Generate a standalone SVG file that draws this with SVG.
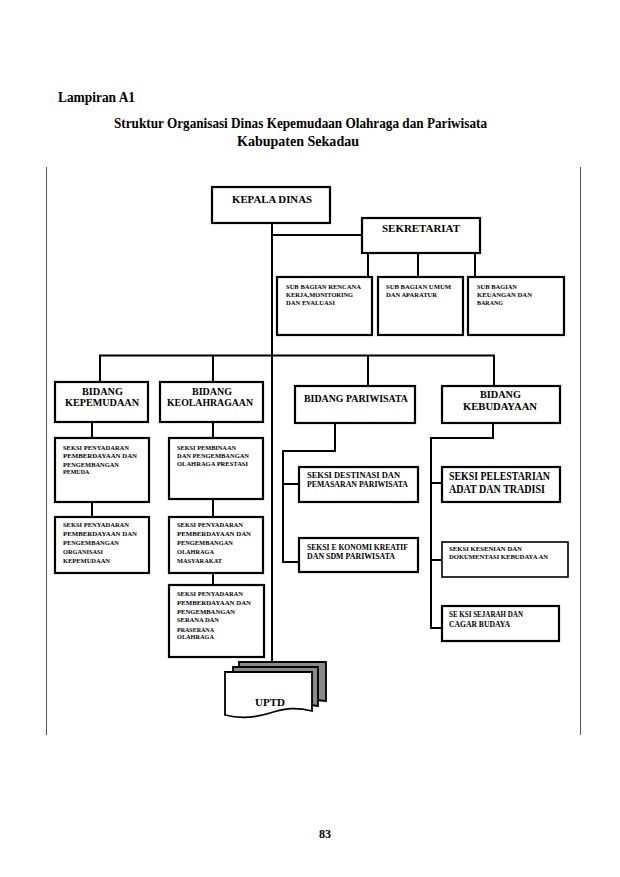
<svg xmlns="http://www.w3.org/2000/svg" width="620" height="877" viewBox="0 0 620 877">
<style>
text{font-family:"Liberation Serif","Times New Roman",serif;font-weight:bold;fill:#000}
.title{font-size:14.5px}
.bl{font-size:10.5px}
.sm{font-size:6px}
.md{font-size:7.5px}
.lg{font-size:12.5px}
.box{fill:#fff;stroke:#000;stroke-width:2.2}
.thin{fill:#fff;stroke:#000;stroke-width:1.6}
.ln{fill:none;stroke:#000;stroke-width:2}
.frame{stroke:#555;stroke-width:1}
</style>
<rect width="620" height="877" fill="#fff"/>
<text class="title" x="58" y="102" textLength="77" lengthAdjust="spacingAndGlyphs">Lampiran A1</text>
<text class="title" x="114" y="128" textLength="373" lengthAdjust="spacingAndGlyphs">Struktur Organisasi Dinas Kepemudaan Olahraga dan Pariwisata</text>
<text class="title" x="237" y="146" textLength="122" lengthAdjust="spacingAndGlyphs">Kabupaten Sekadau</text>
<line class="frame" x1="46.5" y1="167" x2="46.5" y2="735"/>
<line class="frame" x1="580.5" y1="167" x2="580.5" y2="735"/>
<g id="connectors">
<line class="ln" x1="272" y1="223" x2="272" y2="663"/>
<line class="ln" x1="272" y1="235" x2="362" y2="235"/>
<line class="ln" x1="368" y1="253" x2="368" y2="277"/>
<line class="ln" x1="418" y1="253" x2="418" y2="277"/>
<line class="ln" x1="475" y1="253" x2="475" y2="277"/>
<path class="ln" d="M100,382 V355.5 H494 V386"/>
<line class="ln" x1="213" y1="355" x2="213" y2="382"/>
<line class="ln" x1="368" y1="355" x2="368" y2="386"/>
<line class="ln" x1="92" y1="422" x2="92" y2="438"/>
<line class="ln" x1="92" y1="502" x2="92" y2="517"/>
<line class="ln" x1="213" y1="422" x2="213" y2="438"/>
<line class="ln" x1="213" y1="499" x2="213" y2="517"/>
<line class="ln" x1="213" y1="573" x2="213" y2="585"/>
<path class="ln" d="M335,423 V451 H283 V562 H299"/>
<line class="ln" x1="283" y1="484" x2="299" y2="484"/>
<path class="ln" d="M493,423 V438 H431 V628 H442"/>
<line class="ln" x1="431" y1="483" x2="442" y2="483"/>
<line class="ln" x1="431" y1="560" x2="442" y2="560"/>
</g>
<g id="kepala-dinas">
<rect class="box" x="212" y="187" width="118" height="36"/>
<text class="bl" x="232" y="203" textLength="80" lengthAdjust="spacingAndGlyphs">KEPALA DINAS</text>
</g>
<g id="sekretariat">
<rect class="box" x="362" y="218" width="118" height="35"/>
<text class="bl" x="382" y="232" textLength="78" lengthAdjust="spacingAndGlyphs">SEKRETARIAT</text>
</g>
<g id="sub-rencana">
<rect class="box" x="277" y="277" width="95" height="58"/>
<text class="sm" x="286" y="289" textLength="75" lengthAdjust="spacingAndGlyphs">SUB BAGIAN  RENCANA</text>
<text class="sm" x="286" y="297" textLength="67" lengthAdjust="spacingAndGlyphs">KERJA,MONITORING</text>
<text class="sm" x="286" y="305" textLength="49" lengthAdjust="spacingAndGlyphs">DAN  EVALUASI</text>
</g>
<g id="sub-umum">
<rect class="box" x="378" y="277" width="85" height="58"/>
<text class="sm" x="386" y="289" textLength="65" lengthAdjust="spacingAndGlyphs">SUB BAGIAN  UMUM</text>
<text class="sm" x="386" y="297" textLength="51" lengthAdjust="spacingAndGlyphs">DAN  APARATUR</text>
</g>
<g id="sub-keuangan">
<rect class="box" x="468" y="277" width="96" height="58"/>
<text class="sm" x="477" y="289" textLength="40" lengthAdjust="spacingAndGlyphs">SUB BAGIAN</text>
<text class="sm" x="477" y="297" textLength="55" lengthAdjust="spacingAndGlyphs">KEUANGAN  DAN</text>
<text class="sm" x="477" y="305">BARANG</text>
</g>
<g id="bidang-kepemudaan">
<rect class="box" x="55" y="382" width="93" height="40"/>
<text class="bl" x="82" y="395" textLength="41" lengthAdjust="spacingAndGlyphs">BIDANG</text>
<text class="bl" x="65" y="406" textLength="74" lengthAdjust="spacingAndGlyphs">KEPEMUDAAN</text>
</g>
<g id="bidang-keolahragaan">
<rect class="box" x="160" y="382" width="103" height="40"/>
<text class="bl" x="192" y="395" textLength="40" lengthAdjust="spacingAndGlyphs">BIDANG</text>
<text class="bl" x="167" y="406" textLength="86" lengthAdjust="spacingAndGlyphs">KEOLAHRAGAAN</text>
</g>
<g id="bidang-pariwisata">
<rect class="box" x="295" y="386" width="120" height="37"/>
<text class="bl" x="304" y="402" textLength="104" lengthAdjust="spacingAndGlyphs">BIDANG PARIWISATA</text>
</g>
<g id="bidang-kebudayaan">
<rect class="box" x="442" y="386" width="118" height="37"/>
<text class="bl" x="480" y="398" textLength="41" lengthAdjust="spacingAndGlyphs">BIDANG</text>
<text class="bl" x="463" y="410" textLength="74" lengthAdjust="spacingAndGlyphs">KEBUDAYAAN</text>
</g>
<g id="seksi-pemuda">
<rect class="box" x="55" y="438" width="94" height="64" stroke-width="2.6"/>
<text class="sm" x="63" y="450" textLength="66" lengthAdjust="spacingAndGlyphs">SEKSI  PENYADARAN</text>
<text class="sm" x="63" y="458" textLength="74" lengthAdjust="spacingAndGlyphs">PEMBERDAYAAN   DAN</text>
<text class="sm" x="63" y="467" textLength="56" lengthAdjust="spacingAndGlyphs">PENGEMBANGAN</text>
<text class="sm" x="63" y="474">PEMUDA</text>
</g>
<g id="seksi-organisasi">
<rect class="box" x="55" y="517" width="94" height="56" stroke-width="2.6"/>
<text class="sm" x="63" y="527" textLength="66" lengthAdjust="spacingAndGlyphs">SEKSI  PENYADARAN</text>
<text class="sm" x="63" y="536" textLength="74" lengthAdjust="spacingAndGlyphs">PEMBERDAYAAN   DAN</text>
<text class="sm" x="63" y="545" textLength="56" lengthAdjust="spacingAndGlyphs">PENGEMBANGAN</text>
<text class="sm" x="63" y="554" textLength="40" lengthAdjust="spacingAndGlyphs">ORGANISASI</text>
<text class="sm" x="63" y="563" textLength="47" lengthAdjust="spacingAndGlyphs">KEPEMUDAAN</text>
</g>
<g id="seksi-prestasi">
<rect class="box" x="169" y="438" width="94" height="61"/>
<text class="sm" x="177" y="450" textLength="59" lengthAdjust="spacingAndGlyphs">SEKSI  PEMBINAAN</text>
<text class="sm" x="177" y="458" textLength="72" lengthAdjust="spacingAndGlyphs">DAN  PENGEMBANGAN</text>
<text class="sm" x="177" y="466" textLength="71" lengthAdjust="spacingAndGlyphs">OLAHRAGA   PRESTASI</text>
</g>
<g id="seksi-masyarakat">
<rect class="box" x="169" y="517" width="94" height="56" stroke-width="2.6"/>
<text class="sm" x="177" y="527" textLength="66" lengthAdjust="spacingAndGlyphs">SEKSI  PENYADARAN</text>
<text class="sm" x="177" y="536" textLength="74" lengthAdjust="spacingAndGlyphs">PEMBERDAYAAN   DAN</text>
<text class="sm" x="177" y="545" textLength="56" lengthAdjust="spacingAndGlyphs">PENGEMBANGAN</text>
<text class="sm" x="177" y="554" textLength="37" lengthAdjust="spacingAndGlyphs">OLAHRAGA</text>
<text class="sm" x="177" y="563" textLength="45" lengthAdjust="spacingAndGlyphs">MASYARAKAT</text>
</g>
<g id="seksi-sarana">
<rect class="box" x="169" y="585" width="95" height="72"/>
<text class="sm" x="177" y="596" textLength="66" lengthAdjust="spacingAndGlyphs">SEKSI PENYADARAN</text>
<text class="sm" x="177" y="605" textLength="74" lengthAdjust="spacingAndGlyphs">PEMBERDAYAAN   DAN</text>
<text class="sm" x="177" y="614" textLength="58" lengthAdjust="spacingAndGlyphs">PENGEMBANGAN</text>
<text class="sm" x="177" y="622" textLength="42" lengthAdjust="spacingAndGlyphs">SERANA  DAN</text>
<text class="sm" x="177" y="632" textLength="37" lengthAdjust="spacingAndGlyphs">PRASERANA</text>
<text class="sm" x="177" y="639" textLength="37" lengthAdjust="spacingAndGlyphs">OLAHRAGA</text>
</g>
<g id="seksi-destinasi">
<rect class="box" x="299" y="467" width="119" height="35"/>
<text class="md" x="307" y="478" textLength="93" lengthAdjust="spacingAndGlyphs">SEKSI DESTINASI DAN</text>
<text class="md" x="307" y="487" textLength="101" lengthAdjust="spacingAndGlyphs">PEMASARAN PARIWISATA</text>
</g>
<g id="seksi-ekonomi">
<rect class="box" x="299" y="538" width="119" height="34"/>
<text class="md" x="307" y="550" textLength="101" lengthAdjust="spacingAndGlyphs">SEKSI E KONOMI  KREATIF</text>
<text class="md" x="307" y="559" textLength="88" lengthAdjust="spacingAndGlyphs">DAN SDM PARIWISATA</text>
</g>
<g id="seksi-pelestarian">
<rect class="box" x="442" y="467" width="118" height="35"/>
<text class="lg" x="449" y="480" textLength="101" lengthAdjust="spacingAndGlyphs">SEKSI PELESTARIAN</text>
<text class="lg" x="449" y="493" textLength="96" lengthAdjust="spacingAndGlyphs">ADAT DAN TRADISI</text>
</g>
<g id="seksi-kesenian">
<rect class="thin" x="442" y="542" width="126" height="35"/>
<text class="sm" x="449" y="551" textLength="73" lengthAdjust="spacingAndGlyphs">SEKSI  KESENIAN   DAN</text>
<text class="sm" x="449" y="559" textLength="99" lengthAdjust="spacingAndGlyphs">DOKUMENTASI   KEBUDAYA AN</text>
</g>
<g id="seksi-sejarah">
<rect class="box" x="442" y="606" width="117" height="35"/>
<text class="md" x="449" y="617" textLength="74" lengthAdjust="spacingAndGlyphs">SE KSI  SEJARAH DAN</text>
<text class="md" x="449" y="627" textLength="61" lengthAdjust="spacingAndGlyphs">CAGAR BUDAYA</text>
</g>
<g id="uptd">
<path d="M239,662 H326 V701 C310,699 300,700 285,704 C270,708 255,708 239,704 Z" fill="#8a8a8a" stroke="#000" stroke-width="1.8"/>
<path d="M233,667 H318 V706 C302,703 292,704 277,709 C262,713 247,713 233,709 Z" fill="#8a8a8a" stroke="#000" stroke-width="1.8"/>
<path d="M225,672 H312 V711 C296,707 286,708 270,713 C254,718 240,719 225,715 Z" fill="#fff" stroke="#000" stroke-width="1.8"/>
<text class="bl" x="255" y="706" textLength="30" lengthAdjust="spacingAndGlyphs">UPTD</text>
</g>
<text x="319" y="838" font-size="12" textLength="12" lengthAdjust="spacingAndGlyphs">83</text>
</svg>
